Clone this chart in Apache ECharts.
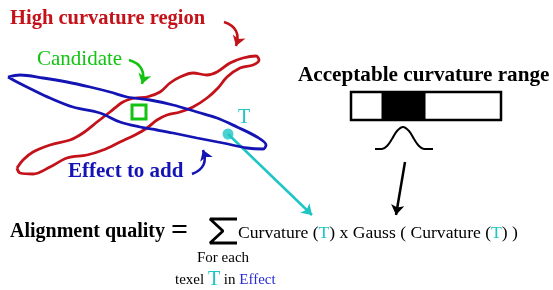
<!DOCTYPE html>
<html>
<head>
<meta charset="utf-8">
<script src="https://cdn.jsdelivr.net/npm/echarts@6/dist/echarts.min.js"></script>
<style>
  html, body { margin: 0; padding: 0; background: #fff; }
  #main { width: 553px; height: 290px; }
</style>
</head>
<body>
<div id="main"></div>
<script>
// outlines (x, y in picture units, y downwards)
var highRegion = [
  [17,168],[23,160],[33,152],[50,145],[70,140],[83,133],[97,122],[110,112],[123,102],
  [135,98],[147,97],[160,92],[170,83],[180,77],[193,73],[207,75],[217,72],[230,63],
  [243,58],[256,56],[259,60],[253,65],[240,68],[227,77],[218,88],[207,98],[193,107],
  [180,112],[167,115],[157,120],[147,128],[135,135],[120,142],[103,150],[87,155],
  [67,158],[50,167],[33,174],[20,173],[17,168]
]
var effectRegion = [
  [8,77],[20,75],[43,78],[67,82],[90,87],[110,92],[127,97],[150,100],[173,105],
  [197,112],[217,118],[237,127],[257,137],[266,145],[263,149],[247,148],[223,143],
  [197,138],[173,133],[157,130],[140,127],[120,122],[100,113],[73,107],[50,98],
  [33,90],[17,82],[8,77]
]
var gaussCurve = [
  [375,149],[382,149],[387,146],[392,139],[397,131],[403,127],[409,131],[414,139],
  [419,146],[424,149],[433,149]
]
var sigmaPath = [[237,219],[210,219],[223,231],[210,243],[237,243]]
var texelT = [[228,134]]
var candidateBox = [[132,105,146,119]]
var rangeBar = [[351,92,501,120]]
var rangeFill = [[382,92,425,120]]

var chart = echarts.init(document.getElementById('main'))

function rectSeries(data, fill, stroke, lw) {
  return {
    type: 'custom',
    coordinateSystem: 'cartesian2d',
    data: data,
    silent: true,
    renderItem: function (params, api) {
      var a = api.coord([api.value(0), api.value(1)])
      var b = api.coord([api.value(2), api.value(3)])
      return {
        type: 'rect',
        shape: { x: a[0], y: a[1], width: b[0] - a[0], height: b[1] - a[1] },
        style: { fill: fill, stroke: stroke, lineWidth: lw }
      }
    }
  }
}

function loop(data, color, w) {
  return {
    type: 'line', data: data, smooth: 0.35, symbol: 'none', silent: true,
    lineStyle: { color: color, width: w }
  }
}

function arrow(from, to, color, curve, w) {
  return {
    type: 'lines', coordinateSystem: 'cartesian2d', silent: true,
    symbol: ['none', 'arrow'], symbolSize: 10,
    lineStyle: { color: color, width: w, curveness: curve, opacity: 1 },
    data: [{ coords: [from, to] }]
  }
}

var serif = '"Liberation Serif", "Times New Roman", serif'

function txt(x, y, text, size, color, bold, rich) {
  return {
    type: 'text', x: x, y: y, silent: true,
    style: {
      text: text, fontFamily: serif, fontSize: size, fill: color,
      fontWeight: bold ? 'bold' : 'normal', verticalAlign: 'middle',
      rich: rich
    }
  }
}

var option = {
  animation: false,
  grid: { left: 0, right: 0, top: 0, bottom: 0 },
  xAxis: { type: 'value', min: 0, max: 553, show: false },
  yAxis: { type: 'value', min: 0, max: 290, inverse: true, show: false },
  series: [
    loop(highRegion, '#c4121a', 2.8),
    loop(effectRegion, '#1414b4', 2.8),
    rectSeries(candidateBox, 'none', '#12c312', 3),
    rectSeries(rangeBar, '#fff', '#000', 2.5),
    rectSeries(rangeFill, '#000', '#000', 1),
    loop(gaussCurve, '#000', 2),
    {
      type: 'line', data: sigmaPath, symbol: 'none', silent: true,
      lineStyle: { color: '#000', width: 2.8 }
    },
    arrow([224, 22], [236, 46], '#c4121a', 0.5, 2.5),
    arrow([129, 60], [142, 84], '#12c312', 0.5, 2.5),
    arrow([192, 174], [203, 150], '#1414b4', -0.5, 2.5),
    arrow([228, 134], [312, 215], '#1ec5c5', 0, 2.5),
    arrow([405, 162], [396, 215], '#000', 0, 2.5),
    {
      type: 'scatter', data: texelT, symbolSize: 11, silent: true,
      itemStyle: { color: '#1ec5c5' }
    }
  ],
  graphic: [
    txt(10, 19, 'High curvature region', 20.5, '#c4121a', true),
    txt(37, 59, 'Candidate', 21, '#12c312', false),
    txt(68, 172, 'Effect to add', 21, '#1414b4', true),
    txt(238, 118, 'T', 20, '#1ec5c5', false),
    txt(298, 76, 'Acceptable curvature range', 21.2, '#000', true),
    txt(10, 232, 'Alignment quality', 20, '#000', true),
    txt(171, 231, '=', 30, '#000', true),
    txt(238, 233, 'Curvature ({t|T}) x Gauss ( Curvature ({t|T}) )', 17.6, '#000', false,
      { t: { fill: '#1ec5c5', fontFamily: serif, fontSize: 17.6 } }),
    txt(197, 258, 'For each', 15, '#000', false),
    txt(175, 280, 'texel {t|T} in {e|Effect}', 15, '#000', false,
      { t: { fill: '#1ec5c5', fontFamily: serif, fontSize: 20 },
        e: { fill: '#2a2ad8', fontFamily: serif, fontSize: 15 } })
  ]
}

chart.setOption(option)
</script>
</body>
</html>
